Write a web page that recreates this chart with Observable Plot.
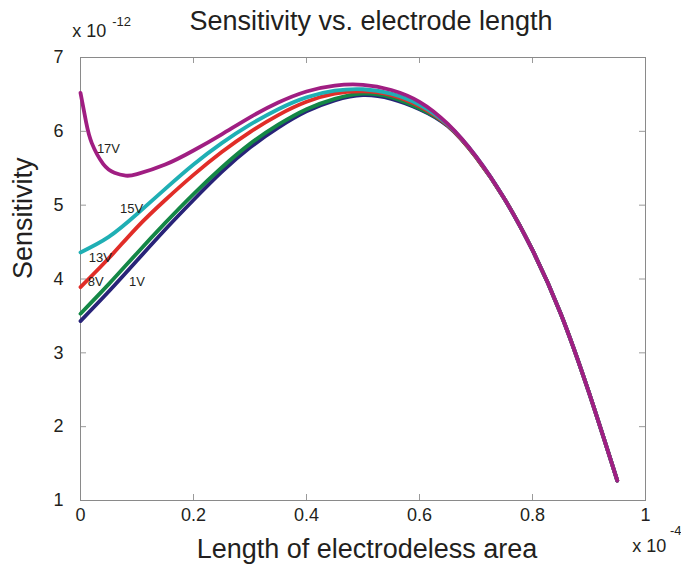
<!DOCTYPE html>
<html><head><meta charset="utf-8">
<script src="https://cdn.jsdelivr.net/npm/d3@7"></script>
<script src="https://cdn.jsdelivr.net/npm/@observablehq/plot@0.6"></script>
<style>body{margin:0;background:#fff} svg{display:block}</style>
</head><body><div id="chart"></div>
<script>
// x in units of 1e-4, y in units of 1e-12
const xs = [0, 0.05, 0.1, 0.15, 0.2, 0.25, 0.3, 0.35, 0.4, 0.45, 0.5, 0.55, 0.6, 0.65, 0.7, 0.75, 0.8, 0.85, 0.9, 0.95];
const y1V  = [3.43, 3.83, 4.25, 4.67, 5.07, 5.45, 5.78, 6.05, 6.27, 6.42, 6.49, 6.44, 6.30, 6.07, 5.65, 5.09, 4.39, 3.53, 2.46, 1.27];
const y8V  = [3.53, 3.93, 4.35, 4.76, 5.15, 5.51, 5.83, 6.09, 6.30, 6.44, 6.51, 6.46, 6.31, 6.08, 5.65, 5.09, 4.39, 3.53, 2.46, 1.27];
const y13V = [3.89, 4.28, 4.70, 5.07, 5.41, 5.72, 5.99, 6.22, 6.40, 6.51, 6.54, 6.49, 6.34, 6.08, 5.65, 5.09, 4.39, 3.53, 2.46, 1.27];
const y15V = [4.36, 4.57, 4.88, 5.22, 5.55, 5.84, 6.09, 6.30, 6.46, 6.55, 6.57, 6.51, 6.36, 6.09, 5.66, 5.09, 4.39, 3.53, 2.46, 1.27];
const x17 = [0, 0.01, 0.02, 0.04, 0.06, 0.08, 0.1, 0.15, 0.2, 0.25, 0.3, 0.35, 0.4, 0.45, 0.5, 0.55, 0.6, 0.65, 0.7, 0.75, 0.8, 0.85, 0.9, 0.95];
const y17V = [6.52, 6.12, 5.84, 5.56, 5.44, 5.40, 5.42, 5.55, 5.74, 5.96, 6.19, 6.39, 6.54, 6.62, 6.63, 6.56, 6.40, 6.10, 5.66, 5.09, 4.39, 3.53, 2.46, 1.27];

const seriesNames = ["1V", "8V", "13V", "15V", "17V"];
const seriesColors = ["#282378", "#148746", "#e12d28", "#1fafb4", "#a01e82"];
const seriesX = [xs, xs, xs, xs, x17];
const seriesY = [y1V, y8V, y13V, y15V, y17V];

const labelNames = ["17V", "15V", "13V", "8V", "1V"];
const labelX = [0.029, 0.070, 0.0145, 0.013, 0.086];
const labelY = [5.70, 4.90, 4.23, 3.91, 3.91];

const xTicks = [0, 0.2, 0.4, 0.6, 0.8, 1];
const xTickLabels = ["0", "0.2", "0.4", "0.6", "0.8", "1"];
const yTicks = [1, 2, 3, 4, 5, 6, 7];
const yTickLabels = ["1", "2", "3", "4", "5", "6", "7"];

const W = 681, H = 573, mL = 80, mR = 36, mT = 57, mB = 73;
const pw = W - mL - mR, ph = H - mT - mB;
const tickLen = 6, tickColor = "#9a9a9a", ink = "#231f20";

const lineMarks = seriesNames.map((name, s) =>
  Plot.line(seriesX[s].map((x, i) => ({x, y: seriesY[s][i]})), {
    x: "x", y: "y", stroke: seriesColors[s], strokeWidth: 3.8, curve: "natural"
  })
);

const chart = Plot.plot({
  width: W, height: H,
  marginLeft: mL, marginRight: mR, marginTop: mT, marginBottom: mB,
  style: {fontFamily: "'Liberation Sans', Arial, sans-serif", background: "#fff", color: ink},
  x: {domain: [0, 1]},
  y: {domain: [1, 7]},
  marks: [
    Plot.tickX(xTicks, {x: d => d, insetTop: ph - tickLen, stroke: tickColor}),
    Plot.tickX(xTicks, {x: d => d, insetBottom: ph - tickLen, stroke: tickColor}),
    Plot.tickY(yTicks, {y: d => d, insetRight: pw - tickLen, stroke: tickColor}),
    Plot.tickY(yTicks, {y: d => d, insetLeft: pw - tickLen, stroke: tickColor}),
    Plot.frame({stroke: "#8a8a8a"}),
    Plot.axisX({ticks: xTicks, tickSize: 0, tickPadding: 8, fontSize: 18, label: null,
      tickFormat: d => xTickLabels[xTicks.indexOf(d)]}),
    Plot.axisY({ticks: yTicks, tickSize: 0, tickPadding: 17, fontSize: 18, label: null,
      tickFormat: d => yTickLabels[yTicks.indexOf(d)]}),
    ...lineMarks,
    Plot.text(labelNames, {x: (d, i) => labelX[i], y: (d, i) => labelY[i], text: d => d,
      textAnchor: "start", lineAnchor: "bottom", fontSize: 13, fill: ink}),
    Plot.text(["Sensitivity vs. electrode length"], {text: d => d, frameAnchor: "top",
      dx: 8, dy: -28, lineAnchor: "bottom", fontSize: 27, fill: ink}),
    Plot.text(["Length of electrodeless area"], {text: d => d, frameAnchor: "bottom",
      dx: 4, dy: 57, lineAnchor: "bottom", fontSize: 27, fill: ink}),
    Plot.text(["Sensitivity"], {text: d => d, frameAnchor: "left", rotate: -90,
      dx: -48.5, lineAnchor: "bottom", fontSize: 27, fill: ink}),
    Plot.text(["x 10"], {text: d => d, frameAnchor: "top-left", dx: -8.3, dy: -20.3,
      textAnchor: "start", lineAnchor: "bottom", fontSize: 18, fill: ink}),
    Plot.text(["-12"], {text: d => d, frameAnchor: "top-left", dx: 31.7, dy: -32,
      textAnchor: "start", lineAnchor: "bottom", fontSize: 13, fill: ink}),
    Plot.text(["x 10"], {text: d => d, frameAnchor: "bottom-right", dx: -13.3, dy: 51.7,
      textAnchor: "start", lineAnchor: "bottom", fontSize: 18, fill: ink}),
    Plot.text(["-4"], {text: d => d, frameAnchor: "bottom-right", dx: 24.5, dy: 34,
      textAnchor: "start", lineAnchor: "bottom", fontSize: 13, fill: ink})
  ]
});
document.getElementById("chart").appendChild(chart);
</script>
</body></html>
